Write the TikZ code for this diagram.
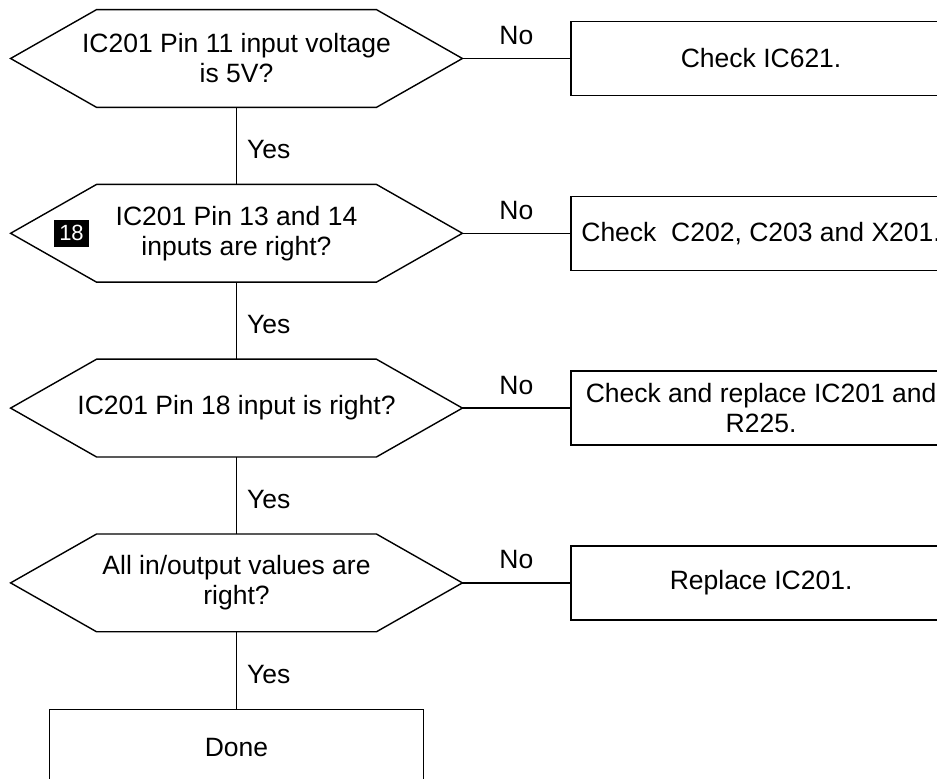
\documentclass[tikz,border=0pt]{standalone}
\usepackage{fontspec}
\setmainfont{Liberation Sans}
\usetikzlibrary{positioning}

\begin{document}
\begin{tikzpicture}[
  x=0.5pt,y=-0.5pt,
  node distance=38.5pt,
  every node/.style={font=\fontsize{13.25}{15}\selectfont},
  decision/.style={minimum width=225.5pt,minimum height=48.5pt,inner sep=0pt,align=center},
  action/.style={draw,line width=0.7pt,minimum width=190pt,minimum height=37pt,inner sep=0pt,align=center},
  badge/.style={fill=black,text=white,font=\fontsize{11}{12}\selectfont,minimum width=17.5pt,minimum height=13.5pt,inner sep=1pt},
  wire/.style={line width=0.7pt}
]
  \useasboundingbox (0,0) rectangle (937,779);
  \clip (0,0) rectangle (937,779);

  % checks down the left column
  \node[decision] (pin11) at (236.5,58.5) {IC201 Pin 11 input voltage\\is 5V?};
  \node[decision,below=of pin11] (pin13) {IC201 Pin 13 and 14\\inputs are right?};
  \node[decision,below=of pin13] (pin18) {IC201 Pin 18 input is right?};
  \node[decision,below=of pin18] (allio) {All in/output values are\\right?};
  \node[action,below=of allio,minimum width=187pt,minimum height=38pt] (done) {Done};
  \node[badge,right=21.5pt of pin13.west] (tag) {18};

  \foreach \q in {pin11,pin13,pin18,allio}
    \draw[wire] (\q.west) -- ([xshift=43pt]\q.north west) -- ([xshift=-43pt]\q.north east)
      -- (\q.east) -- ([xshift=-43pt]\q.south east) -- ([xshift=43pt]\q.south west) -- cycle;

  % what to do when the answer is no
  \node[action,right=54pt of pin11] (chk621) {Check IC621.};
  \node[action,right=54pt of pin13] (chkxtal) {Check\ \ C202, C203 and X201.};
  \node[action,right=54pt of pin18] (chk225) {Check and replace IC201 and\\R225.};
  \node[action,right=54pt of allio] (repl) {Replace IC201.};

  \draw[wire] (pin11) -- node[midway,right,inner sep=5pt,yshift=-2pt] {Yes} (pin13);
  \draw[wire] (pin13) -- node[midway,right,inner sep=5pt,yshift=-2pt] {Yes} (pin18);
  \draw[wire] (pin18) -- node[midway,right,inner sep=5pt,yshift=-2pt] {Yes} (allio);
  \draw[wire] (allio) -- node[midway,right,inner sep=5pt,yshift=-2pt] {Yes} (done);

  \draw[wire] (pin11) -- node[midway,above,inner sep=6.5pt] {No} (chk621);
  \draw[wire] (pin13) -- node[midway,above,inner sep=6.5pt] {No} (chkxtal);
  \draw[wire] (pin18) -- node[midway,above,inner sep=6.5pt] {No} (chk225);
  \draw[wire] (allio) -- node[midway,above,inner sep=6.5pt] {No} (repl);
\end{tikzpicture}
\end{document}
